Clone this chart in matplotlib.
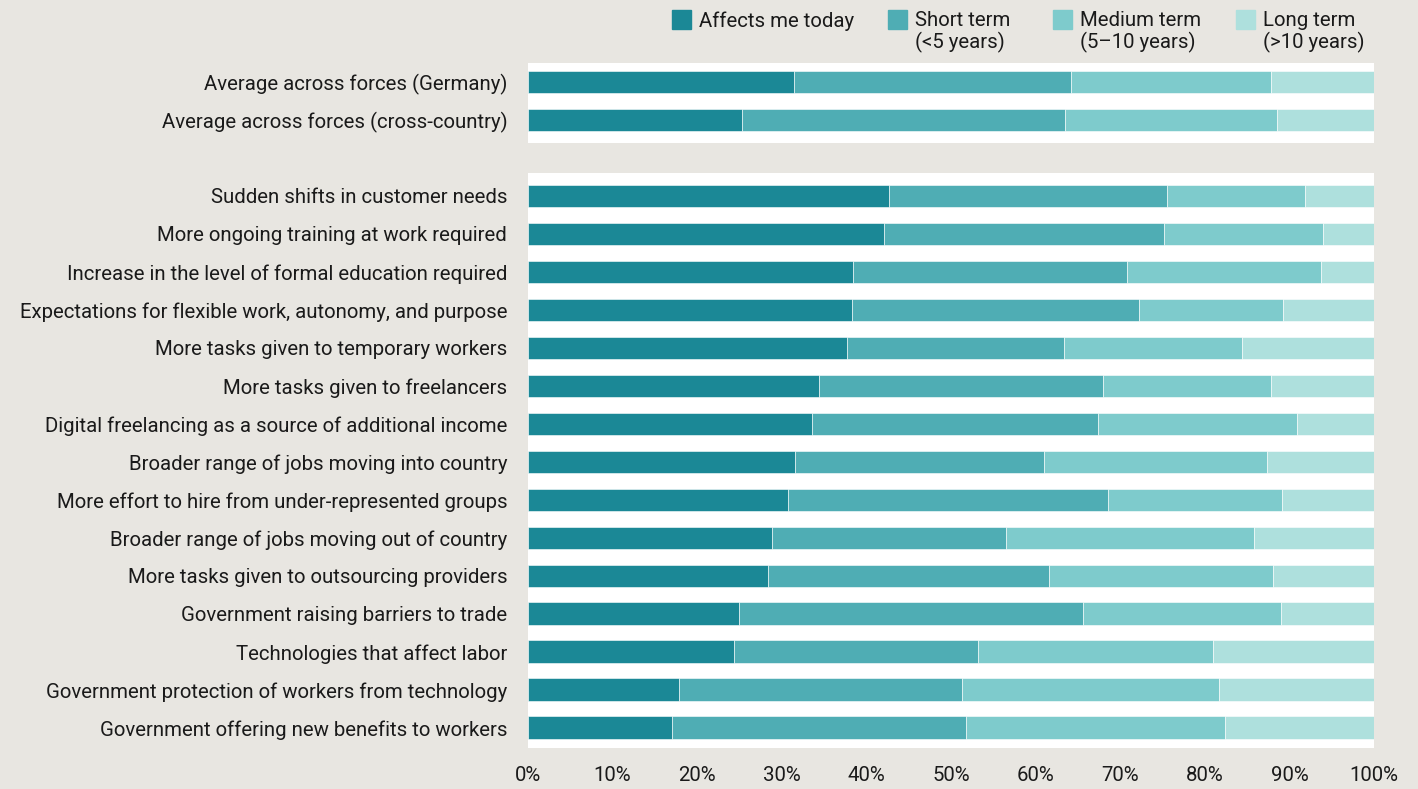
import numpy as np
import matplotlib.pyplot as plt
from matplotlib.patches import Rectangle

plt.rcParams['font.family'] = ['Roboto', 'DejaVu Sans']

# data (cumulative shares, in %)
top_labels = ['Average across forces (Germany)', 'Average across forces (cross-country)']
top_today = [31.4, 25.3]
top_short = [32.8, 38.2]
top_medium = [23.6, 25.0]
top_long = [12.2, 11.5]

labels = [
    'Sudden shifts in customer needs',
    'More ongoing training at work required',
    'Increase in the level of formal education required',
    'Expectations for flexible work, autonomy, and purpose',
    'More tasks given to temporary workers',
    'More tasks given to freelancers',
    'Digital freelancing as a source of additional income',
    'Broader range of jobs moving into country',
    'More effort to hire from under-represented groups',
    'Broader range of jobs moving out of country',
    'More tasks given to outsourcing providers',
    'Government raising barriers to trade',
    'Technologies that affect labor',
    'Government protection of workers from technology',
    'Government offering new benefits to workers',
]
today = [42.7, 42.1, 38.4, 38.3, 37.7, 34.4, 33.6, 31.6, 30.7, 28.8, 28.4, 24.9, 24.3, 17.8, 17.0]
short = [32.8, 33.1, 32.4, 33.9, 25.7, 33.6, 33.8, 29.4, 37.9, 27.7, 33.2, 40.7, 28.9, 33.5, 34.8]
medium = [16.3, 18.8, 22.9, 17.0, 21.0, 19.8, 23.5, 26.4, 20.5, 29.3, 26.5, 23.4, 27.8, 30.4, 30.6]
long_ = [8.2, 6.0, 6.3, 10.8, 15.6, 12.2, 9.1, 12.6, 10.9, 14.2, 11.9, 11.0, 19.0, 18.3, 17.6]

series_names = ['Affects me today', 'Short term\n(<5 years)', 'Medium term\n(5\u201310 years)', 'Long term\n(>10 years)']
colors = ['#1b8896', '#4fadb4', '#7ecbcc', '#aee0dd']
bg = '#e8e6e1'
txt = '#1a1a1a'
fs = 14.7

fig = plt.figure(figsize=(14.18, 7.89), dpi=100, facecolor=bg)
ax_top = fig.add_axes([528/1418, 1 - 143/789, 846/1418, 80/789])
ax_bot = fig.add_axes([528/1418, 1 - 748/789, 846/1418, 575/789])


def draw(ax, names, parts):
    y = np.arange(len(names))
    left = np.zeros(len(names))
    for vals, c in zip(parts, colors):
        vals = np.array(vals)
        ax.barh(y, vals, left=left, height=0.6, color=c, edgecolor='white', linewidth=0.4)
        left += vals
    ax.set_xlim(0, 100)
    ax.set_yticks(y)
    ax.set_yticklabels(names, fontsize=fs, color=txt)
    ax.tick_params(axis='y', length=0, pad=15)
    ax.set_facecolor('white')
    for s in ax.spines.values():
        s.set_visible(False)


draw(ax_top, top_labels, [top_today, top_short, top_medium, top_long])
ax_top.set_ylim(1.605, -0.5)
ax_top.set_xticks([])

draw(ax_bot, labels, [today, short, medium, long_])
ax_bot.set_ylim(14.53, -0.605)
ax_bot.set_xticks(np.arange(0, 101, 10))
ax_bot.set_xticklabels([f'{v}%' for v in range(0, 101, 10)], fontsize=fs, color=txt)
ax_bot.tick_params(axis='x', length=0, pad=13)

# legend drawn by hand
leg_x = [672, 888, 1053, 1236]
for x, c, name in zip(leg_x, colors, series_names):
    fig.patches.append(Rectangle((x/1418, 1 - 29/789), 19/1418, 19/789,
                                 transform=fig.transFigure, color=c))
    fig.text((x + 27)/1418, 1 - 11/789, name, fontsize=fs, color=txt,
             va='top', ha='left', linespacing=1.12)

fig.savefig('out.png', dpi=100, facecolor=bg)
